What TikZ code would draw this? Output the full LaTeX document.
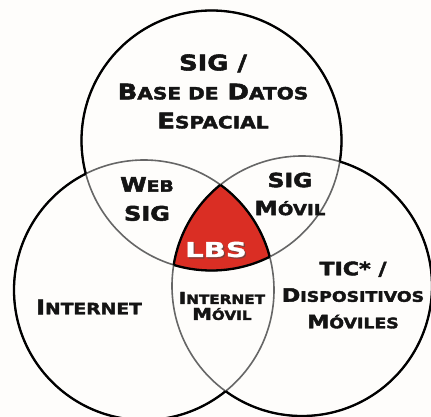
\documentclass[tikz,border=0pt]{standalone}
\usepackage{fontspec}
\newfontfamily\copfont[FakeStretch=1.2,BoldFont={DejaVu Sans Bold},BoldFeatures={FakeBold=2.5}]{DejaVu Sans Bold}
\newfontfamily\lbsfont[FakeStretch=1.42,BoldFont={DejaVu Sans Bold},BoldFeatures={FakeBold=1.5}]{DejaVu Sans Bold}
\definecolor{lbsred}{RGB}{218,46,36}
\definecolor{paper}{RGB}{254,253,251}
\makeatletter
\newcommand\lc[1]{{\fontsize{\fpeval{.78*\f@size}}{\f@baselineskip}\selectfont#1}}
\makeatother
\tikzset{
  outer arc/.style={line width=2.3pt,black},
  inner arc/.style={line width=1.6pt,black!60},
  venn label/.style args={#1/#2}{font=\copfont\bfseries\fontsize{#1}{#2}\selectfont,align=center,inner sep=0pt,black!92},
  venn label/.default={20/29},
  lbs label/.style={font=\lbsfont\bfseries\fontsize{20.5}{24}\selectfont,inner sep=0pt,white},
}
\begin{document}
\begin{tikzpicture}[x=1pt,y=-1pt,line cap=round]
\def\rad{130pt}
\fill[paper] (0,0) rectangle (431,417);
\useasboundingbox (0,0) rectangle (431,417);
\coordinate (sig) at (211.5,140.5);
\coordinate (net) at (144,290);
\coordinate (tic) at (302,286);

\begin{scope}
  \clip (sig) circle[radius=\rad];
  \clip (net) circle[radius=\rad];
  \fill[lbsred] (tic) circle[radius=\rad];
\end{scope}
\foreach \c in {sig,net,tic}
  \draw[inner arc] (\c) circle[radius=\rad];
\foreach \c/\a/\b in {sig/net/tic,net/tic/sig,tic/sig/net}{
  \begin{scope}[even odd rule]
    \clip (-20,-20) rectangle (451,437) (\a) circle[radius=\rad];
    \clip (-20,-20) rectangle (451,437) (\b) circle[radius=\rad];
    \draw[outer arc] (\c) circle[radius=\rad];
  \end{scope}
  \begin{scope}
    \clip (\a) circle[radius=\rad];
    \clip (\b) circle[radius=\rad];
    \draw[outer arc] (\c) circle[radius=\rad];
  \end{scope}
}

\node[venn label=21.5/29] (sigdb) at (213,91.5) {SIG /\\B\lc{ASE DE} D\lc{ATOS}\\E\lc{SPACIAL}};
\node[venn label] (websig) at (147,199) {W\lc{EB}\\SIG};
\node[venn label=19.5/28] (sigmovil) at (290,194) {SIG\\M\lc{ÓVIL}};
\node[venn label=18.5/26.5] (ticdm) at (353,295) {TIC* /\\D\lc{ISPOSITIVOS}\\M\lc{ÓVILES}};
\node[venn label] (internet) at (89,307) {I\lc{NTERNET}};
\node[venn label=16.3/16] (netmovil) at (222,306) {I\lc{NTERNET}\\M\lc{ÓVIL}};
\coordinate (lbspos) at (216,249.5);
\node[lbs label,black!70,opacity=.6] (lbsshade) at ([shift={(1.3,1.3)}]lbspos) {LBS};
\node[lbs label] (lbs) at (lbspos) {LBS};
\end{tikzpicture}
\end{document}
